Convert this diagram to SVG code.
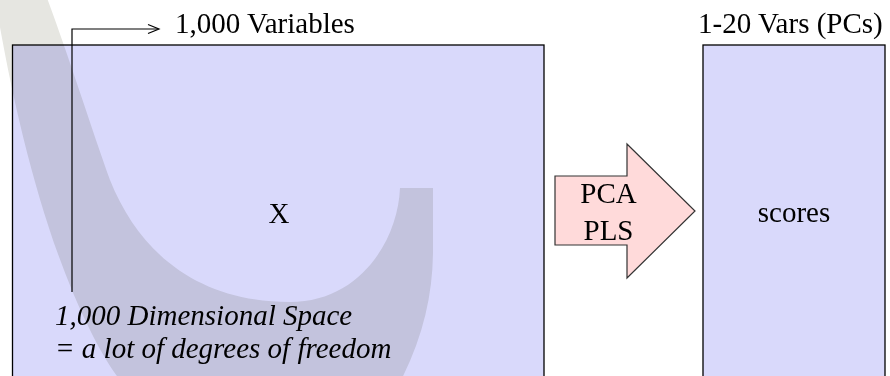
<svg xmlns="http://www.w3.org/2000/svg" width="890" height="376" viewBox="0 0 890 376">
<style>
.t{font-family:"Liberation Serif","Times New Roman","DejaVu Serif",serif;font-size:29px;fill:#000}
.box{fill:#d9d9fb;stroke:#000;stroke-width:1.3}
.it{font-style:italic}
.line{fill:none;stroke:#000;stroke-width:1.2}
</style>
<rect width="890" height="376" fill="#fff"/>
<g id="nodeX">
<rect class="box" x="12.5" y="45" width="531.5" height="345"/>
</g>
<g id="nodeScores">
<rect class="box" x="703" y="45" width="182" height="345"/>
</g>
<path id="watermark" d="M400,188 C398,240 360,302 290,302 C200,302 140,255 110,180 C92,130 70,60 47,-2 L-5,-2 C10,90 40,230 90,330 C105,360 120,385 140,400 L390,400 C420,350 433,300 433,250 L433,188 Z" fill="#e6e6e1" style="mix-blend-mode:multiply"/>
<g id="connectors">
<polyline class="line" points="72,292 72,29 158,29"/>
<polyline class="line" points="148,24.5 159,29 148,33.5"/>
</g>
<g id="labelVars"><text class="t" font-family="Liberation Serif, serif" x="175" y="33">1,000 Variables</text></g>
<g id="labelPCs"><text class="t" font-family="Liberation Serif, serif" x="698" y="33">1-20 Vars (PCs)</text></g>
<g id="textX"><text class="t" font-family="Liberation Serif, serif" x="279" y="223" text-anchor="middle">X</text></g>
<g id="textScores"><text class="t" font-family="Liberation Serif, serif" x="794" y="222" text-anchor="middle">scores</text></g>
<g id="note">
<text class="t it" font-family="Liberation Serif, serif" x="55" y="325">1,000 Dimensional Space</text>
<text class="t it" font-family="Liberation Serif, serif" x="55" y="358">= a lot of degrees of freedom</text>
</g>
<g id="arrowPCA">
<polygon points="555,176 627,176 627,144 695,211 627,278 627,245 555,245" fill="#ffdada" stroke="#333" stroke-width="1.2"/>
<text class="t" font-family="Liberation Serif, serif" x="608.5" y="203" text-anchor="middle">PCA</text>
<text class="t" font-family="Liberation Serif, serif" x="608.5" y="240" text-anchor="middle">PLS</text>
</g>
</svg>
